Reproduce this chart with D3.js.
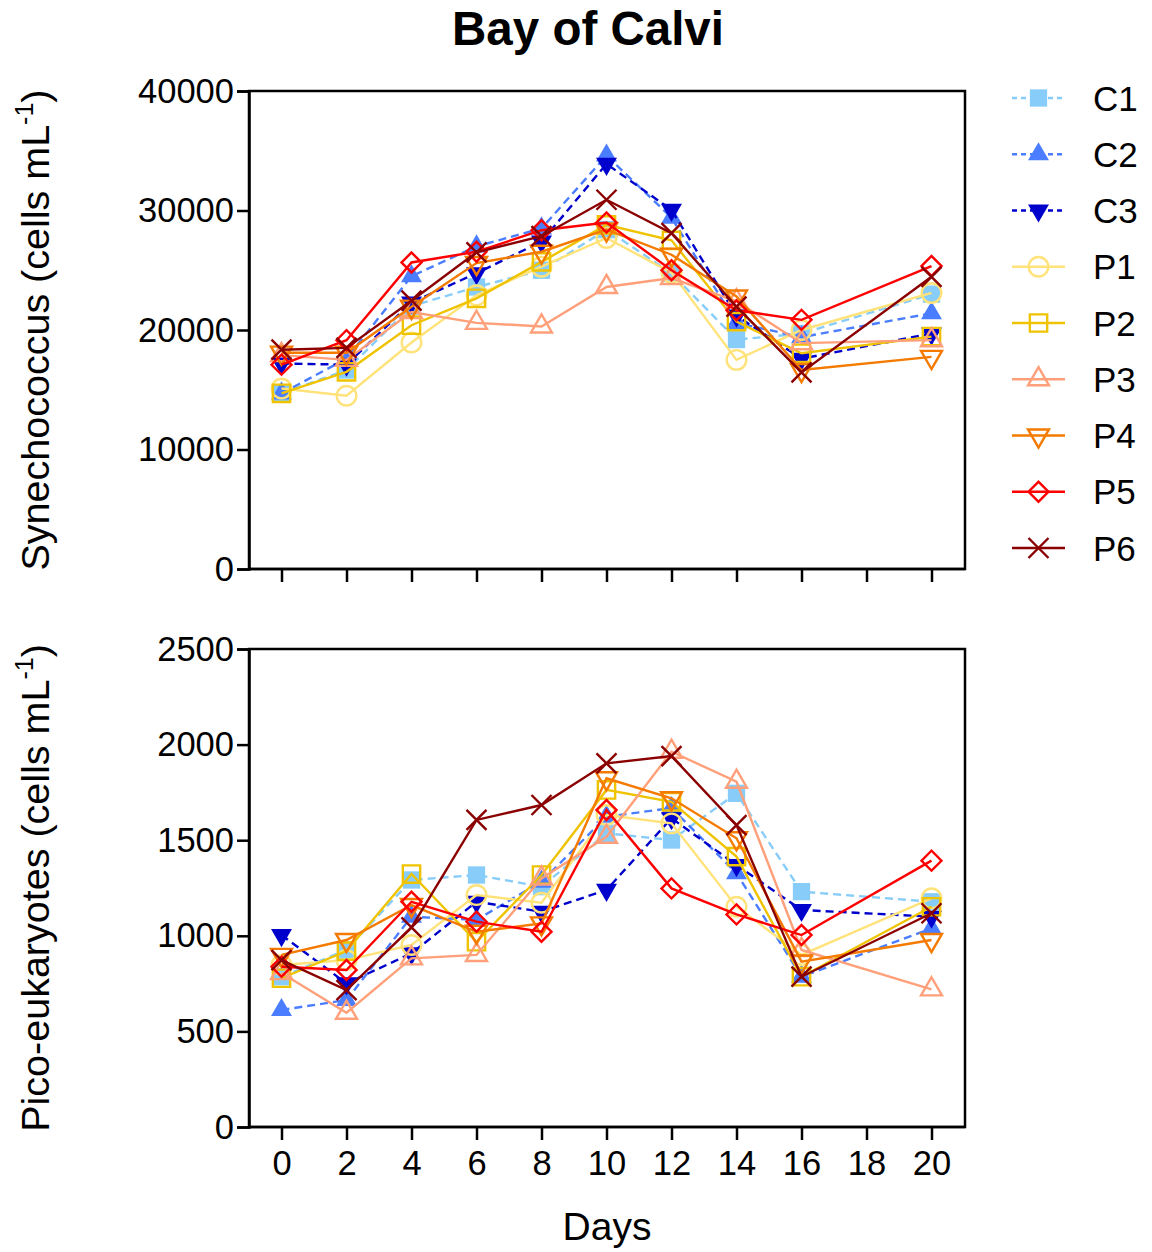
<!DOCTYPE html>
<html>
<head>
<meta charset="utf-8">
<script src="https://cdn.jsdelivr.net/npm/d3@7"></script>
<style>
  body { margin: 0; background: #fff; }
  svg { display: block; font-family: "Liberation Sans", Arial, sans-serif; }
  .axis path, .axis line { stroke: #000; stroke-width: 2.5; }
  .axis text { font-size: 34.5px; fill: #000; font-family: "Liberation Sans", Arial, sans-serif; }
</style>
</head>
<body>
<div id="chart"></div>
<script>
// sampling days
const days = [0, 2, 4, 6, 8, 10, 12, 14, 16, 20];
const seriesNames = ["C1", "C2", "C3", "P1", "P2", "P3", "P4", "P5", "P6"];

// Synechococcus (cells mL-1)
const synC1 = [14700, 16650, 22000, 23600, 25000, 28400, 24750, 19200, 19700, 23000];
const synC2 = [14700, 17600, 24500, 27000, 28500, 34600, 29400, 20600, 19400, 21400];
const synC3 = [17200, 17100, 22300, 24750, 27400, 33900, 30050, 21200, 17600, 19700];
const synP1 = [15100, 14500, 18950, 22900, 25300, 27700, 24800, 17500, 20000, 23100];
const synP2 = [14700, 16500, 20400, 22650, 25700, 28800, 27500, 20700, 18050, 19450];
const synP3 = [17900, 17500, 21500, 20600, 20300, 23600, 24350, 22400, 18900, 19150];
const synP4 = [18100, 18100, 21950, 25600, 26550, 28400, 26300, 22800, 16650, 17750];
const synP5 = [17100, 19150, 25650, 26550, 28350, 29000, 25000, 21650, 20850, 25350];
const synP6 = [18350, 18500, 22450, 26500, 27850, 30900, 28100, 21950, 16450, 24450];

// Pico-eukaryotes (cells mL-1)
const picoC1 = [786, 926, 1292, 1318, 1257, 1536, 1501, 1745, 1231, 1178];
const picoC2 = [612, 664, 1100, 1083, 1283, 1623, 1668, 1327, 786, 1039];
const picoC3 = [1004, 751, 908, 1178, 1126, 1240, 1615, 1370, 1135, 1100];
const picoP1 = [847, 873, 952, 1213, 1173, 1632, 1588, 1152, 900, 1196];
const picoP2 = [778, 920, 1323, 969, 1318, 1763, 1701, 1414, 786, 1152];
const picoP3 = [805, 598, 882, 900, 1300, 1518, 1963, 1806, 926, 720];
const picoP4 = [900, 978, 1161, 1021, 1065, 1824, 1719, 1510, 865, 978];
const picoP5 = [838, 821, 1178, 1074, 1021, 1658, 1248, 1112, 1004, 1393];
const picoP6 = [873, 716, 1044, 1606, 1684, 1902, 1940, 1579, 786, 1118];

const xTicks = [0, 2, 4, 6, 8, 10, 12, 14, 16, 18, 20];
const synTicks = [0, 10000, 20000, 30000, 40000];
const picoTicks = [0, 500, 1000, 1500, 2000, 2500];

const synData = [synC1, synC2, synC3, synP1, synP2, synP3, synP4, synP5, synP6];
const picoData = [picoC1, picoC2, picoC3, picoP1, picoP2, picoP3, picoP4, picoP5, picoP6];

// appearance per series
const styles = {
  C1: {color: "#88cdf9", dash: "8,5", shape: "square", filled: true},
  C2: {color: "#4a7dff", dash: "8,5", shape: "triUp", filled: true},
  C3: {color: "#0000cc", dash: "8,5", shape: "triDown", filled: true},
  P1: {color: "#ffe37a", dash: null, shape: "circle", filled: false},
  P2: {color: "#efc300", dash: null, shape: "square", filled: false},
  P3: {color: "#ffa07a", dash: null, shape: "triUp", filled: false},
  P4: {color: "#f47a00", dash: null, shape: "triDown", filled: false},
  P5: {color: "#ff0000", dash: null, shape: "diamond", filled: false},
  P6: {color: "#8b0000", dash: null, shape: "cross", filled: false}
};

const W = 1152, H = 1252;
const svg = d3.select("#chart").append("svg")
  .attr("width", W).attr("height", H);

const x = d3.scaleLinear().domain([-1, 21]).range([249, 964]);

function markerPath(shape) {
  if (shape === "square") return d3.symbol(d3.symbolSquare, 300)();
  if (shape === "triUp" || shape === "triDown") return d3.symbol(d3.symbolTriangle, 190)();
  if (shape === "circle") return d3.symbol(d3.symbolCircle, 300)();
  if (shape === "diamond") return d3.symbol(d3.symbolSquare, 200)();
  // cross
  const s = 10;
  return `M${-s},${-s}L${s},${s}M${-s},${s}L${s},${-s}`;
}

function rotation(shape) {
  if (shape === "triDown") return 180;
  if (shape === "diamond") return 45;
  return 0;
}

function drawMarkers(g, pts, st) {
  g.selectAll(".mk")
    .data(pts)
    .join("path")
    .attr("class", "mk")
    .attr("d", markerPath(st.shape))
    .attr("transform", d => `translate(${d[0]},${d[1]}) rotate(${rotation(st.shape)})`)
    .attr("fill", st.filled ? st.color : "none")
    .attr("stroke", st.filled ? "none" : st.color)
    .attr("stroke-width", 2.4);
}

function drawPanel(top, bottom, maxV, ticks, data, showLabels, yTitle) {
  const y = d3.scaleLinear().domain([0, maxV]).range([bottom, top]);

  // frame (top and right edges)
  svg.append("rect")
    .attr("x", x(-1)).attr("y", top)
    .attr("width", 965 - x(-1)).attr("height", bottom - top)
    .attr("fill", "none").attr("stroke", "#000").attr("stroke-width", 2.5);

  const xAxis = d3.axisBottom(x).tickValues(xTicks).tickSize(13).tickPadding(11)
    .tickFormat(showLabels ? d3.format("d") : "");
  svg.append("g").attr("class", "axis")
    .attr("transform", `translate(0,${bottom})`)
    .call(xAxis)
    .call(g => g.select(".domain").attr("d", `M${x(-1)},0H965`));

  const yAxis = d3.axisLeft(y).tickValues(ticks).tickSize(12).tickPadding(3)
    .tickFormat(d3.format("d"));
  svg.append("g").attr("class", "axis")
    .attr("transform", `translate(${x(-1)},0)`)
    .call(yAxis);

  const line = d3.line().x(d => d[0]).y(d => d[1]);

  seriesNames.forEach((name, i) => {
    const st = styles[name];
    const pts = days.map((d, j) => [x(d), y(data[i][j])]);
    const g = svg.append("g");
    g.append("path")
      .attr("d", line(pts))
      .attr("fill", "none")
      .attr("stroke", st.color)
      .attr("stroke-width", 2.4)
      .attr("stroke-dasharray", st.dash);
    drawMarkers(g, pts, st);
  });

  // rotated y title
  const t = svg.append("text")
    .attr("transform", `translate(49,${(top + bottom) / 2}) rotate(-90)`)
    .attr("text-anchor", "middle")
    .attr("font-size", 39.5);
  t.append("tspan").text(yTitle + " (cells mL");
  t.append("tspan").attr("font-size", 25).attr("dy", -16).text("-1");
  t.append("tspan").attr("dy", 16).text(")");
}

drawPanel(91, 569, 40000, synTicks, synData, false, "Synechococcus");
drawPanel(649, 1127, 2500, picoTicks, picoData, true, "Pico-eukaryotes");

// title
svg.append("text")
  .attr("x", 588).attr("y", 45)
  .attr("text-anchor", "middle")
  .attr("font-size", 47.5).attr("font-weight", "bold")
  .text("Bay of Calvi");

// x title
svg.append("text")
  .attr("x", 607).attr("y", 1240)
  .attr("text-anchor", "middle")
  .attr("font-size", 39)
  .text("Days");

// legend
const legend = svg.append("g");
seriesNames.forEach((name, i) => {
  const st = styles[name];
  const cy = 98 + i * 56.25;
  const g = legend.append("g");
  g.append("line")
    .attr("x1", 1012).attr("x2", 1065).attr("y1", cy).attr("y2", cy)
    .attr("stroke", st.color).attr("stroke-width", 2.4)
    .attr("stroke-dasharray", st.dash ? "5,4" : null);
  drawMarkers(g, [[1038.5, cy]], st);
  g.append("text")
    .attr("x", 1093).attr("y", cy + 12.5)
    .attr("font-size", 35)
    .text(name);
});
</script>
</body>
</html>
